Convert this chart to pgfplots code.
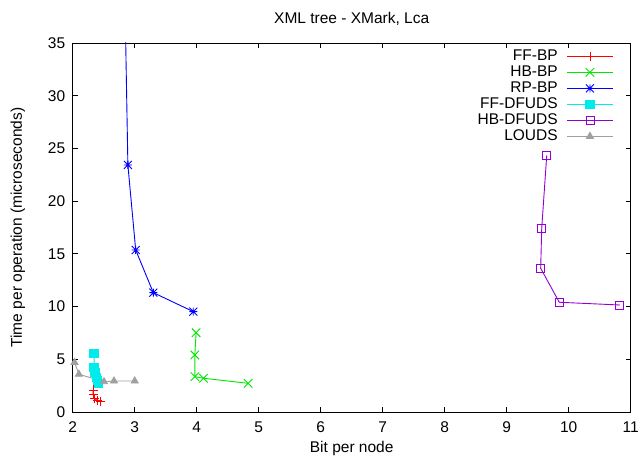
\documentclass[border=0pt]{standalone}
\usepackage{fontspec}
\setmainfont{Liberation Sans}
\usepackage{pgfplots}
\pgfplotsset{compat=1.18}
\newcommand\gpfont{\fontsize{15.5}{18}\selectfont}
\pgfdeclareplotmark{gpstar}{%
  \pgfpathmoveto{\pgfqpoint{-\pgfplotmarksize}{0pt}}\pgfpathlineto{\pgfqpoint{\pgfplotmarksize}{0pt}}%
  \pgfpathmoveto{\pgfqpoint{0pt}{-\pgfplotmarksize}}\pgfpathlineto{\pgfqpoint{0pt}{\pgfplotmarksize}}%
  \pgfpathmoveto{\pgfqpoint{-\pgfplotmarksize}{-\pgfplotmarksize}}\pgfpathlineto{\pgfqpoint{\pgfplotmarksize}{\pgfplotmarksize}}%
  \pgfpathmoveto{\pgfqpoint{-\pgfplotmarksize}{\pgfplotmarksize}}\pgfpathlineto{\pgfqpoint{\pgfplotmarksize}{-\pgfplotmarksize}}%
  \pgfusepathqstroke}
\pgfdeclareplotmark{sqdot}{%
  \pgfpathrectangle{\pgfqpoint{-\pgfplotmarksize}{-\pgfplotmarksize}}{\pgfqpoint{2\pgfplotmarksize}{2\pgfplotmarksize}}%
  \pgfusepathqstroke
  \pgfpathcircle{\pgfpointorigin}{0.5pt}\pgfusepathqfill}
\definecolor{gpred}{RGB}{255,0,0}
\definecolor{gpgreen}{RGB}{0,230,0}
\definecolor{gpblue}{RGB}{0,0,255}
\definecolor{gpcyan}{RGB}{0,235,235}
\definecolor{gppurple}{RGB}{148,0,211}
\definecolor{gpgray}{RGB}{160,160,160}
\begin{document}
\begin{tikzpicture}[x=1pt,y=1pt]
\useasboundingbox (0,0) rectangle (642,457);
\begin{axis}[
  at={(72.7pt,45pt)}, anchor=south west,
  scale only axis, width=558pt, height=369pt,
  xmin=2, xmax=11, ymin=0, ymax=35,
  xtick={2,3,...,11}, ytick={0,5,...,35},
  tick align=inside, major tick length=5pt,
  axis line style={line width=0.9pt},
  every tick/.style={black, line width=0.9pt},
  font=\gpfont,
  /pgf/number format/assume math mode=true,
  xticklabel style={font=\gpfont, yshift=-6pt},
  yticklabel style={font=\gpfont, xshift=-4pt},
  title={XML tree - XMark, Lca},
  title style={font=\gpfont, at={(0.5,1)}, anchor=south, yshift=8pt},
  xlabel={Bit per node},
  xlabel style={font=\gpfont, at={(0.5,0)}, anchor=north, yshift=-26pt},
  ylabel={Time per operation (microseconds)},
  ylabel style={font=\gpfont, at={(0,0.5)}, anchor=south, xshift=0pt, yshift=44pt},
  legend cell align=right,
  legend plot pos=right,
  legend image code/.code={\draw[mark repeat=2,mark phase=2,#1] plot coordinates {(0pt,0pt) (22.8pt,0pt) (45.6pt,0pt)};},
  legend style={draw=none, fill=none, font=\gpfont, at={(0.969,0.986)}, anchor=north east,
    inner sep=0pt, row sep=0pt, column sep=8pt,
    nodes={inner sep=1pt, text height=11pt, text depth=3pt}},
  every axis plot/.append style={line width=0.9pt},
]
\addplot[gpred, mark=+, mark size=4.5pt] coordinates {
 (2.33,2.09) (2.33,1.68) (2.35,1.30) (2.40,1.07) (2.445,0.98)};
\addlegendentry{FF-BP}
\addplot[gpgreen, mark=x, mark size=6pt] coordinates {
 (3.99,7.52) (3.97,5.41) (3.97,3.35) (4.11,3.20) (4.83,2.72)};
\addlegendentry{HB-BP}
\addplot[gpblue, mark=gpstar, mark size=4pt] coordinates {
 (2.81,50) (2.89,23.43) (3.016,15.37) (3.30,11.32) (3.945,9.52)};
\addlegendentry{RP-BP}
\addplot[gpcyan, mark=square*, mark size=4.2pt, mark options={fill=gpcyan, draw=gpcyan}] coordinates {
 (2.345,5.57) (2.345,4.24) (2.36,3.75) (2.38,3.30) (2.40,3.00) (2.42,2.72)};
\addlegendentry{FF-DFUDS}
\addplot[gppurple, mark=sqdot, mark size=4pt] coordinates {
 (9.645,24.29) (9.565,17.43) (9.548,13.63) (9.848,10.41) (10.816,10.15)};
\addlegendentry{HB-DFUDS}
\addplot[gpgray, mark=triangle*, mark size=4pt, mark options={fill=gpgray, draw=gpgray}] coordinates {
 (2.03,4.70) (2.10,3.58) (2.505,2.87) (2.666,2.94) (3.0,2.94)};
\addlegendentry{LOUDS}
\end{axis}
\end{tikzpicture}
\end{document}
